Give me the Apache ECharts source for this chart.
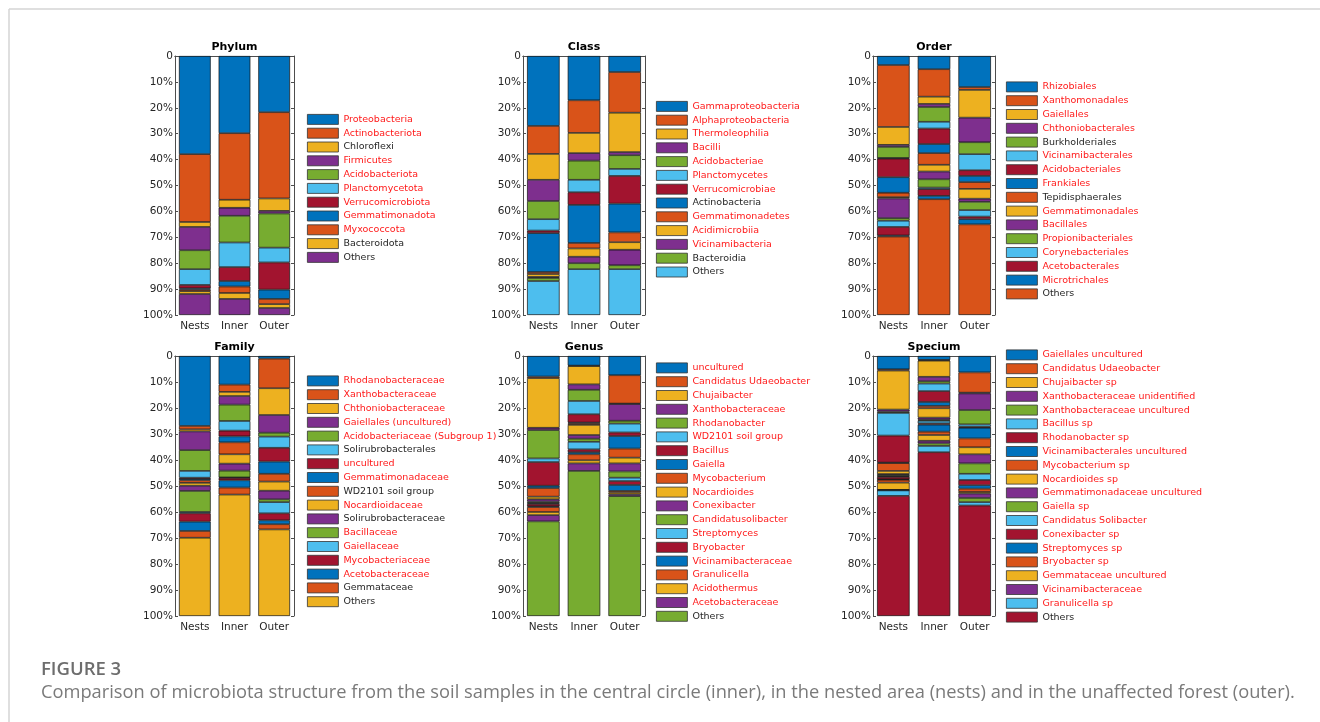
<!DOCTYPE html>
<html>
<head>
<meta charset="utf-8">
<script src="https://cdn.jsdelivr.net/npm/echarts@6/dist/echarts.min.js"></script>
<style>
  html, body { margin: 0; padding: 0; background: #fff; }
  #chart { width: 1320px; height: 722px; }
</style>
</head>
<body>
<div id="chart"></div>
<script>
// samples on the x axis
const samples = ['Nests', 'Inner', 'Outer'];
// y axis ticks (percent, 0 at the top)
const yTicks = [0, 10, 20, 30, 40, 50, 60, 70, 80, 90, 100];

// ---- Phylum ----
const phylumNames = ['Proteobacteria', 'Actinobacteriota', 'Chloroflexi', 'Firmicutes', 'Acidobacteriota', 'Planctomycetota', 'Verrucomicrobiota', 'Gemmatimonadota', 'Myxococcota', 'Bacteroidota', 'Others'];
const phylumRed = [1, 1, 0, 1, 1, 1, 1, 1, 1, 0, 0];
const phylumNests = [37.9, 26.2, 1.9, 9.0, 7.3, 6.1, 1.3, 0.5, 0.6, 1.1, 8.1];
const phylumInner = [29.8, 25.7, 3.1, 3.1, 10.3, 9.5, 5.4, 2.1, 2.5, 2.3, 6.2];
const phylumOuter = [21.7, 33.3, 4.8, 1.0, 13.2, 5.7, 10.5, 3.6, 2.0, 1.5, 2.7];

// ---- Class ----
const classNames = ['Gammaproteobacteria', 'Alphaproteobacteria', 'Thermoleophilia', 'Bacilli', 'Acidobacteriae', 'Planctomycetes', 'Verrucomicrobiae', 'Actinobacteria', 'Gemmatimonadetes', 'Acidimicrobiia', 'Vicinamibacteria', 'Bacteroidia', 'Others'];
const classRed = [1, 1, 1, 1, 1, 1, 1, 0, 1, 1, 1, 0, 0];
const classNests = [27.0, 10.8, 10.0, 8.2, 7.0, 4.4, 1.0, 15.0, 0.8, 1.1, 0.4, 1.2, 13.1];
const classInner = [17.1, 12.6, 7.8, 2.9, 7.4, 4.8, 4.9, 14.7, 2.1, 3.2, 2.5, 2.3, 17.7];
const classOuter = [6.2, 15.7, 15.2, 1.2, 5.3, 2.7, 10.7, 11.1, 3.8, 2.9, 6.0, 1.5, 17.7];

// ---- Order ----
const orderNames = ['Rhizobiales', 'Xanthomonadales', 'Gaiellales', 'Chthoniobacterales', 'Burkholderiales', 'Vicinamibacterales', 'Acidobacteriales', 'Frankiales', 'Tepidisphaerales', 'Gemmatimonadales', 'Bacillales', 'Propionibacteriales', 'Corynebacteriales', 'Acetobacterales', 'Microtrichales', 'Others'];
const orderRed = [1, 1, 1, 1, 0, 1, 1, 1, 0, 1, 1, 1, 1, 1, 1, 0];
const orderNests = [3.5, 23.9, 6.9, 0.8, 4.3, 0.2, 7.2, 6.0, 1.7, 0.5, 7.6, 1.0, 2.4, 3.3, 0.4, 30.3];
const orderInner = [5.1, 10.6, 2.8, 1.2, 5.7, 2.6, 6.0, 3.5, 4.5, 2.6, 3.0, 3.2, 0.6, 2.6, 1.3, 44.7];
const orderOuter = [12.0, 1.1, 10.7, 9.5, 4.6, 6.2, 2.2, 2.4, 2.6, 3.8, 1.2, 3.2, 2.5, 1.0, 2.0, 35.0];

// ---- Family ----
const familyNames = ['Rhodanobacteraceae', 'Xanthobacteraceae', 'Chthoniobacteraceae', 'Gaiellales (uncultured)', 'Acidobacteriaceae (Subgroup 1)', 'Solirubrobacterales', 'uncultured', 'Gemmatimonadaceae', 'WD2101 soil group', 'Nocardioidaceae', 'Solirubrobacteraceae', 'Bacillaceae', 'Gaiellaceae', 'Mycobacteriaceae', 'Acetobacteraceae', 'Gemmataceae', 'Others'];
const familyRed = [1, 1, 1, 1, 1, 0, 1, 1, 0, 1, 0, 1, 1, 1, 1, 0, 0];
const familyNests = [26.9, 1.3, 0.8, 7.2, 8.0, 2.6, 0.5, 0.5, 1.0, 1.1, 2.0, 8.1, 0.5, 3.2, 3.6, 2.6, 30.1];
const familyInner = [11.0, 2.8, 1.6, 3.3, 6.3, 3.7, 2.2, 2.3, 4.6, 3.6, 2.7, 2.6, 0.2, 0.9, 2.8, 2.7, 46.7];
const familyOuter = [1.0, 11.4, 10.3, 6.8, 1.5, 4.3, 5.3, 4.7, 3.0, 3.5, 3.3, 1.1, 4.3, 2.7, 1.5, 2.0, 33.3];

// ---- Genus ----
const genusNames = ['uncultured', 'Candidatus Udaeobacter', 'Chujaibacter', 'Xanthobacteraceae', 'Rhodanobacter', 'WD2101 soil group', 'Bacillus', 'Gaiella', 'Mycobacterium', 'Nocardioides', 'Conexibacter', 'Candidatusolibacter', 'Streptomyces', 'Bryobacter', 'Vicinamibacteraceae', 'Granulicella', 'Acidothermus', 'Acetobacteraceae', 'Others'];
const genusRed = [1, 1, 1, 1, 1, 1, 1, 1, 1, 1, 1, 1, 1, 1, 1, 1, 1, 1, 0];
const genusNests = [7.9, 0.6, 19.1, 0.9, 10.9, 1.4, 9.1, 0.9, 3.3, 1.0, 0.9, 0.5, 0.4, 0.9, 0.3, 1.9, 1.2, 2.4, 36.4];
const genusInner = [3.7, 0.2, 7.0, 2.1, 4.3, 5.1, 3.2, 0.3, 0.6, 3.9, 1.4, 1.2, 2.9, 1.1, 0.8, 2.3, 1.2, 2.9, 55.8];
const genusOuter = [7.4, 10.9, 0.2, 6.4, 1.1, 3.4, 1.4, 4.8, 3.5, 2.2, 3.1, 2.4, 1.3, 1.5, 2.3, 0.6, 0.7, 0.7, 46.1];

// ---- Specium ----
const speciumNames = ['Gaiellales uncultured', 'Candidatus Udaeobacter', 'Chujaibacter sp', 'Xanthobacteraceae unidentified', 'Xanthobacteraceae uncultured', 'Bacillus sp', 'Rhodanobacter sp', 'Vicinamibacterales uncultured', 'Mycobacterium sp', 'Nocardioides sp', 'Gemmatimonadaceae uncultured', 'Gaiella sp', 'Candidatus Solibacter', 'Conexibacter sp', 'Streptomyces sp', 'Bryobacter sp', 'Gemmataceae uncultured', 'Vicinamibacteraceae', 'Vicinamibacterales uncultured', 'Granulicella sp', 'Others'];
const speciumRed = [1, 1, 1, 1, 1, 1, 1, 1, 1, 1, 1, 1, 1, 1, 1, 1, 1, 1, 1, 1, 0];
const speciumNests = [5.1, 0.5, 15.0, 0.8, 0.5, 8.7, 10.4, 0.2, 3.0, 1.2, 0.4, 0.5, 0.2, 0.9, 0.2, 1.1, 2.8, 0.1, 0.1, 2.1, 46.2];
const speciumInner = [1.5, 0.3, 6.2, 1.7, 0.9, 2.9, 4.2, 1.5, 0.9, 3.6, 0.8, 0.4, 1.0, 0.5, 2.7, 1.3, 2.2, 1.0, 1.0, 2.4, 63.0];
const speciumOuter = [6.3, 7.8, 0.3, 6.4, 5.5, 0.9, 0.4, 4.1, 3.4, 2.7, 3.5, 4.0, 2.4, 2.0, 1.3, 1.3, 0.6, 1.7, 1.6, 1.3, 42.5];

// MATLAB default colour order
const palette = ['#0072BD', '#D95319', '#EDB120', '#7E2F8E', '#77AC30', '#4DBEEE', '#A2142F'];

const panels = [
    { title: 'Phylum', names: phylumNames, red: phylumRed, vals: [phylumNests, phylumInner, phylumOuter], left: 175, top: 56, width: 119, height: 259, legendLeft: 307 },
    { title: 'Class', names: classNames, red: classRed, vals: [classNests, classInner, classOuter], left: 523, top: 56, width: 122, height: 259, legendLeft: 656 },
    { title: 'Order', names: orderNames, red: orderRed, vals: [orderNests, orderInner, orderOuter], left: 873, top: 56, width: 122, height: 259, legendLeft: 1006 },
    { title: 'Family', names: familyNames, red: familyRed, vals: [familyNests, familyInner, familyOuter], left: 175, top: 356, width: 119, height: 260, legendLeft: 307 },
    { title: 'Genus', names: genusNames, red: genusRed, vals: [genusNests, genusInner, genusOuter], left: 523, top: 356, width: 122, height: 260, legendLeft: 656 },
    { title: 'Specium', names: speciumNames, red: speciumRed, vals: [speciumNests, speciumInner, speciumOuter], left: 873, top: 356, width: 122, height: 260, legendLeft: 1006 }
];

const axisColor = '#4d4d4d';
const textColor = '#262626';
const font = 'DejaVu Sans';
const rowStep = 13;

let grids = [], xAxes = [], yAxes = [], series = [], legends = [], titles = [];

panels.forEach(function(p, k) {
    grids.push({ left: p.left, top: p.top, width: p.width, height: p.height, containLabel: false });
    titles.push({
        text: p.title, left: p.left + p.width / 2, top: p.top - 14, textAlign: 'center', padding: 0,
        textStyle: { fontFamily: font, fontSize: 11, fontWeight: 'bold', color: '#000' }
    });
    // bottom and top category axes
    xAxes.push({
        type: 'category', gridIndex: k, data: samples, position: 'bottom',
        axisLine: { lineStyle: { color: axisColor, width: 1 } },
        axisTick: { inside: true, alignWithLabel: true, length: 3, lineStyle: { color: axisColor } },
        axisLabel: { fontFamily: font, fontSize: 10.5, color: textColor, margin: 6 }
    });
    xAxes.push({
        type: 'category', gridIndex: k, data: samples, position: 'top',
        axisLine: { lineStyle: { color: axisColor, width: 1 } },
        axisTick: { inside: true, alignWithLabel: true, length: 3, lineStyle: { color: axisColor } },
        axisLabel: { show: false }
    });
    // left and right value axes, 0 at the top
    yAxes.push({
        type: 'value', gridIndex: k, inverse: true, min: yTicks[0], max: yTicks[yTicks.length - 1], interval: 10,
        position: 'left',
        axisLine: { show: true, lineStyle: { color: axisColor, width: 1 } },
        axisTick: { show: true, inside: true, length: 3, lineStyle: { color: axisColor } },
        splitLine: { show: false },
        axisLabel: {
            fontFamily: font, fontSize: 10.5, color: textColor, margin: 2,
            formatter: function(v) { return v === 0 ? '0' : v + '%'; }
        }
    });
    yAxes.push({
        type: 'value', gridIndex: k, inverse: true, min: yTicks[0], max: yTicks[yTicks.length - 1], interval: 10,
        position: 'right',
        axisLine: { show: true, lineStyle: { color: axisColor, width: 1 } },
        axisTick: { show: true, inside: true, length: 3, lineStyle: { color: axisColor } },
        splitLine: { show: false },
        axisLabel: { show: false }
    });

    let legendData = [];
    p.names.forEach(function(n, i) {
        const sname = p.title + '|' + n;
        series.push({
            type: 'bar', name: sname, stack: p.title,
            xAxisIndex: 2 * k, yAxisIndex: 2 * k,
            barWidth: '80%',
            data: [p.vals[0][i], p.vals[1][i], p.vals[2][i]],
            itemStyle: { color: palette[i % palette.length], borderColor: '#111', borderWidth: 0.7 }
        });
        legendData.push({ name: sname, textStyle: { color: p.red[i] ? '#ff1a1a' : textColor } });
    });
    // legend centred vertically on the plot
    legends.push({
        orient: 'vertical', left: p.legendLeft,
        top: p.top + p.height / 2 - p.names.length * rowStep / 2,
        padding: 0, itemWidth: 31, itemHeight: 10, itemGap: 3,
        selectedMode: false, icon: 'rect',
        itemStyle: { borderColor: '#333', borderWidth: 0.8 },
        textStyle: { fontFamily: font, fontSize: 9.5 },
        formatter: function(name) { return name.split('|')[1]; },
        data: legendData
    });
});

// figure caption
titles.push({
    text: 'FIGURE 3', left: 41, top: 660, padding: 0,
    textStyle: { fontFamily: 'Open Sans', fontSize: 18.5, fontWeight: 600, color: '#6d6d6d' }
});
titles.push({
    text: 'Comparison of microbiota structure from the soil samples in the central circle (inner), in the nested area (nests) and in the unaffected forest (outer).',
    left: 41, top: 684, padding: 0,
    textStyle: { fontFamily: 'Open Sans', fontSize: 18.3, fontWeight: 'normal', color: '#7a7a7a' }
});

const chart = echarts.init(document.getElementById('chart'));
chart.setOption({
    backgroundColor: '#fff',
    animation: false,
    title: titles,
    grid: grids,
    xAxis: xAxes,
    yAxis: yAxes,
    legend: legends,
    series: series,
    graphic: [
        { type: 'line', shape: { x1: 9, y1: 9, x2: 1320, y2: 9 }, style: { stroke: '#d4d4d4', lineWidth: 1.5 } },
        { type: 'line', shape: { x1: 9, y1: 9, x2: 9, y2: 722 }, style: { stroke: '#d4d4d4', lineWidth: 1.5 } }
    ]
});
</script>
</body>
</html>
